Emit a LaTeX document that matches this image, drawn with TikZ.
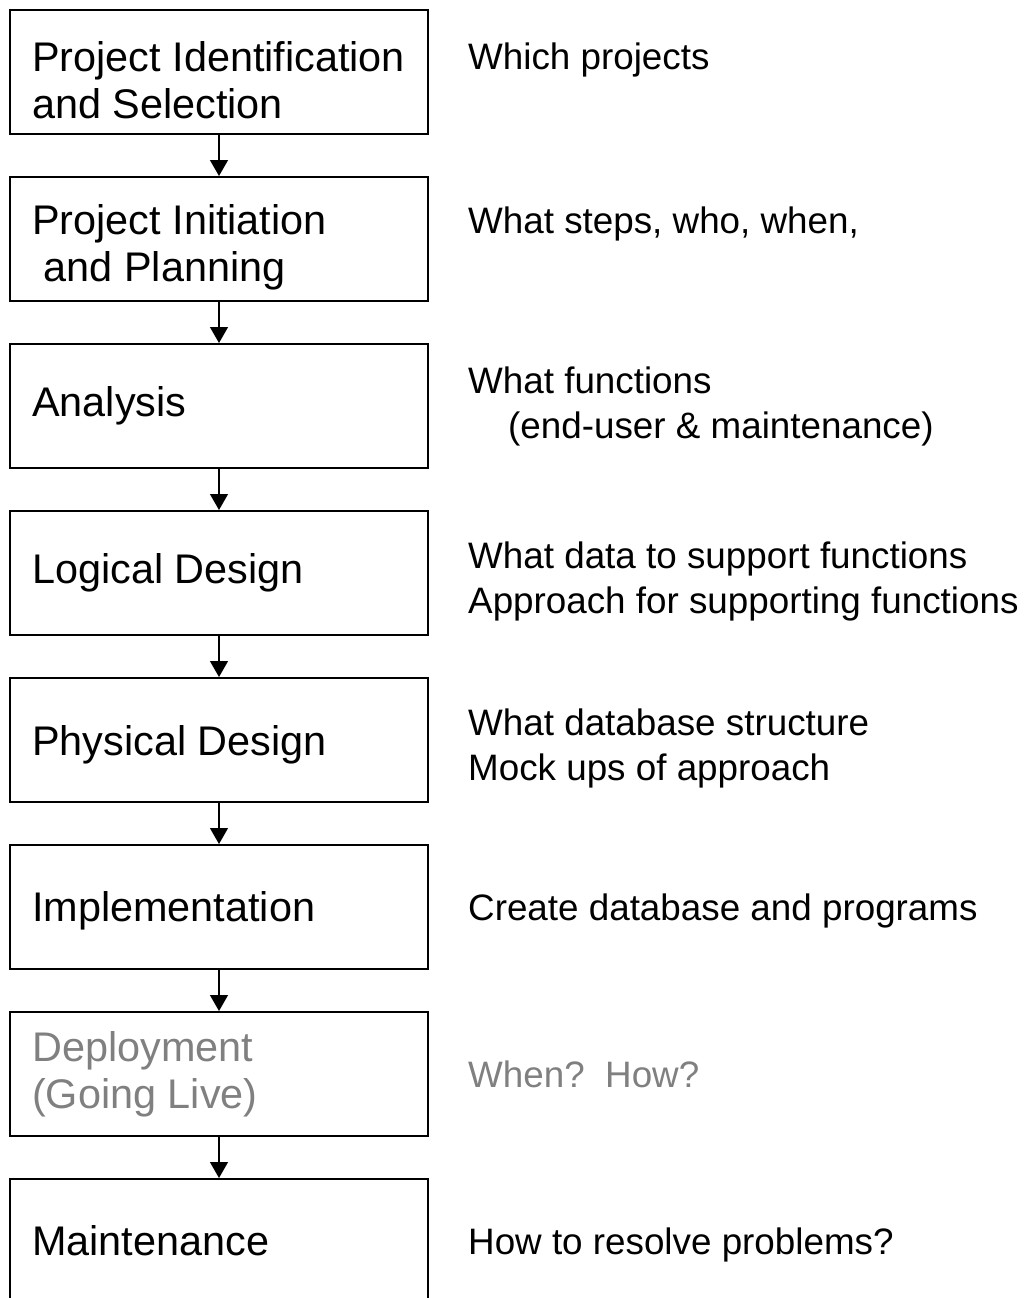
\documentclass[tikz,border=0pt]{standalone}
\usepackage{fontspec}
\setmainfont{Liberation Sans}
\usetikzlibrary{positioning,arrows.meta}
\definecolor{livegray}{RGB}{128,128,128}

\begin{document}
\begin{tikzpicture}[x=1pt,y=-1pt,
  stagebox/.style={draw,line width=2pt,minimum width=418pt,minimum height=124pt,inner sep=0pt},
  stagetext/.style={anchor=west,align=left,inner sep=0pt,font=\fontsize{41.4}{47}\selectfont},
  notetext/.style={anchor=west,align=left,inner sep=0pt,font=\fontsize{36.8}{45}\selectfont},
  flow/.style={line width=1.3pt,-{Triangle[width=18pt,length=16pt]}}]
\useasboundingbox (0,0) rectangle (1026,1298);
\clip (0,0) rectangle (1026,1298);

% the eight stages, one under the other
\node[stagebox] (ident) at (219,72) {};
\node[stagebox,below=41pt of ident] (init) {};
\node[stagebox,below=41pt of init] (analysis) {};
\node[stagebox,below=41pt of analysis] (logical) {};
\node[stagebox,below=41pt of logical] (physical) {};
\node[stagebox,below=41pt of physical] (impl) {};
\node[stagebox,below=41pt of impl] (deploy) {};
\node[stagebox,below=41pt of deploy] (maint) {};

\node[stagetext,yshift=-8pt] (identtxt) at ([xshift=23pt]ident.west) {Project Identification\\and Selection};
\node[stagetext,yshift=-8pt] (inittxt) at ([xshift=23pt]init.west) {Project Initiation\\\hspace*{0.28em}and Planning};
\node[stagetext] (analysistxt) at ([xshift=23pt]analysis.west) {Analysis};
\node[stagetext] (logicaltxt) at ([xshift=23pt]logical.west) {Logical Design};
\node[stagetext,yshift=-5pt] (physicaltxt) at ([xshift=23pt]physical.west) {Physical Design};
\node[stagetext,yshift=-4pt] (impltxt) at ([xshift=23pt]impl.west) {Implementation};
\node[stagetext,text=livegray] (deploytxt) at ([xshift=23pt]deploy.west) {Deployment\\(Going Live)};
\node[stagetext] (mainttxt) at ([xshift=23pt]maint.west) {Maintenance};

% what each stage answers
\node[notetext,yshift=12pt] (identnote) at ([xshift=39pt]ident.east) {Which projects};
\node[notetext,yshift=15pt] (initnote) at ([xshift=39pt]init.east) {What steps, who, when,};
\node[notetext] (analysisnote) at ([xshift=39pt]analysis.east) {What functions\\\hspace*{40pt}(end-user \& maintenance)};
\node[notetext,yshift=-8pt] (logicalnote) at ([xshift=39pt]logical.east) {What data to support functions\\Approach for supporting functions};
\node[notetext,yshift=-8pt] (physicalnote) at ([xshift=39pt]physical.east) {What database structure\\Mock ups of approach};
\node[notetext,yshift=-4pt] (implnote) at ([xshift=39pt]impl.east) {Create database and programs};
\node[notetext,text=livegray] (deploynote) at ([xshift=39pt]deploy.east) {When?\ \ How?};
\node[notetext,yshift=-4pt] (maintnote) at ([xshift=39pt]maint.east) {How to resolve problems?};

\draw[flow] (ident) -- (init);
\draw[flow] (init) -- (analysis);
\draw[flow] (analysis) -- (logical);
\draw[flow] (logical) -- (physical);
\draw[flow] (physical) -- (impl);
\draw[flow] (impl) -- (deploy);
\draw[flow] (deploy) -- (maint);
\end{tikzpicture}
\end{document}
